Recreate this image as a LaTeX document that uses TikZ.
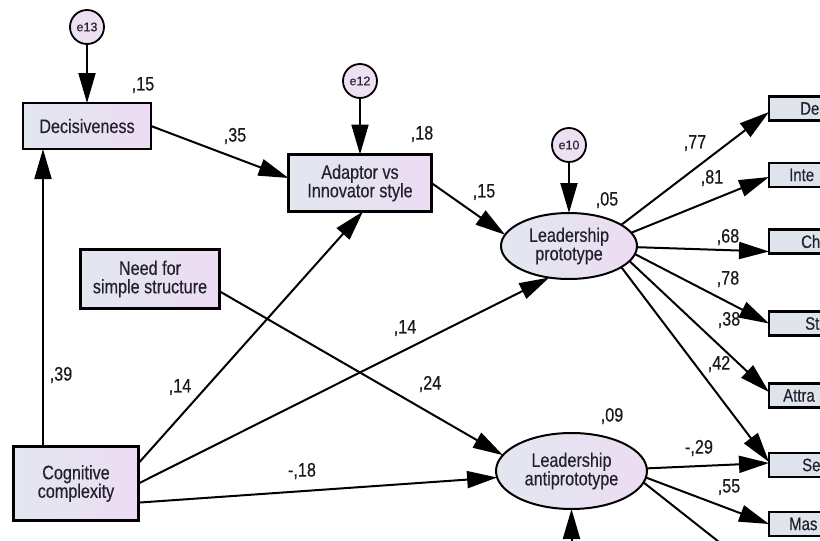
\documentclass[tikz,border=0pt]{standalone}
\usepackage{fontspec}
\newfontfamily\narrowf{Liberation Sans}[FakeStretch=0.83, FakeBold=0.4]
\newfontfamily\errf{Liberation Sans}[FakeBold=0.3]
\usetikzlibrary{arrows.meta,shapes.geometric,calc}
\newcommand\bxfont{\narrowf\fontsize{19.5pt}{18.5pt}\selectfont}
\newcommand\obxfont{\narrowf\fontsize{18pt}{18pt}\selectfont}
\newcommand\lblfont{\narrowf\fontsize{19.5pt}{20pt}\selectfont}
\newcommand\errfont{\errf\fontsize{12.5pt}{14pt}\selectfont}
\definecolor{cL}{RGB}{226,231,240}
\definecolor{cR}{RGB}{237,220,242}
\definecolor{cC}{RGB}{236,224,242}
\definecolor{cO}{RGB}{223,228,236}
\definecolor{txt}{RGB}{34,34,46}
\tikzset{
  bx/.style={draw=black, line width=2.6pt, left color=cL, right color=cR, align=center,
    inner sep=0pt, outer sep=0pt, font=\bxfont, text=txt},
  ell/.style={ellipse, draw=black, line width=2pt, left color=cL, right color=cR, align=center,
    inner sep=0pt, outer sep=0pt, font=\bxfont, text=txt},
  errc/.style={circle, draw=black, line width=1.8pt, fill=cC, minimum size=34pt,
    inner sep=0pt, outer sep=0pt, font=\errfont, text=txt},
  obox/.style={draw=black, line width=2.2pt, fill=cO, anchor=west, minimum width=90pt,
    minimum height=24pt, inner sep=0pt, outer sep=0pt},
  otext/.style={anchor=west, inner sep=0pt, font=\obxfont, text=txt},
  lbl/.style={inner sep=0pt, font=\lblfont, text=black!90},
  arr/.style={line width=2pt, draw=black, -{Triangle[length=30pt,width=17pt]}},
}
\begin{document}
\begin{tikzpicture}[x=1pt,y=-1pt]
\useasboundingbox (0,0) rectangle (820,541);
\clip (0,0) rectangle (820,541);
\fill[white] (0,0) rectangle (820,541);

% main nodes
\node[bx, minimum width=128pt, minimum height=46pt] (dec) at (87,126) {Decisiveness};
\node[bx, minimum width=143pt, minimum height=57pt] (ad) at (360,183) {Adaptor vs\\Innovator style};
\node[bx, minimum width=139pt, minimum height=59pt] (need) at (150,279) {Need for\\simple structure};
\node[bx, minimum width=125pt, minimum height=74pt] (cog) at (76,483.5) {Cognitive\\complexity};
\node[ell, minimum width=136pt, minimum height=66pt] (lp) at (569,246) {Leadership\\prototype};
\node[ell, minimum width=151pt, minimum height=76pt] (lap) at (571.5,471) {Leadership\\antiprototype};

% error terms
\node[errc] (e13) at (87,27) {e13};
\node[errc] (e12) at (360,81) {e12};
\node[errc] (e10) at (569,145) {e10};
\coordinate (e11) at (571.5,600);
\coordinate (offb) at (790,598);

% observed indicators (cut by the right edge)
\node[obox] (o1) at (769,108.5) {};
\node[obox] (o2) at (769,175) {};
\node[obox] (o3) at (769,241.5) {};
\node[obox] (o4) at (769,323.5) {};
\node[obox] (o5) at (769,395.5) {};
\node[obox] (o6) at (769,465) {};
\node[obox] (o7) at (769,524) {};
\node[otext] (t1) at (800,108.5) {De};
\node[otext] (t2) at (789,175) {Inte};
\node[otext] (t3) at (801,241.5) {Ch};
\node[otext] (t4) at (805,323.5) {St};
\node[otext] (t5) at (783,395.5) {Attra};
\node[otext] (t6) at (802,465) {Se};
\node[otext] (t7) at (789,524) {Mas};

% connectors
\draw[arr] (e13) -- (dec);
\draw[arr] (e12) -- (ad);
\draw[arr] (e10) -- (lp);
\draw[arr] (dec.east) -- (ad.176);
\draw[arr] (ad.east) -- (lp.170);
\draw[arr] ([xshift=-33pt]cog.north) -- ([xshift=-33pt]cog.north |- dec.south);
\draw[arr] (cog.18) -- ([xshift=3pt]ad.south);
\draw[arr] (cog.east) -- (lp.238);
\draw[arr] (cog.-17) -- (lap.185);
\draw[arr] (need.-10) -- (lap.167);
\draw[arr] (lp.22) -- ([yshift=-3.5pt]o1.west);
\draw[arr] (lp.12) -- ([yshift=-2pt]o2.west);
\draw[arr] (lp.-1) -- ([yshift=-10pt]o3.west);
\draw[arr] (lp.-7) -- (o4.west);
\draw[arr] (lp.-14) -- ([yshift=3.5pt]o5.west);
\draw[arr] (lp.-22) -- ([yshift=3pt]o6.west);
\draw[arr] (lap.2) -- ([yshift=2pt]o6.west);
\draw[arr] (lap.-5) -- (o7.west);
\draw[arr] (lap.-9) -- (offb);
\draw[arr] (e11) -- (lap.south);

% coefficients
\node[lbl] (l1) at (143,85) {,15};
\node[lbl] (l2) at (235,136) {,35};
\node[lbl] (l3) at (422,134) {,18};
\node[lbl] (l4) at (484,192) {,15};
\node[lbl] (l5) at (607,200) {,05};
\node[lbl] (l6) at (695,143) {,77};
\node[lbl] (l7) at (712,178) {,81};
\node[lbl] (l8) at (728,237) {,68};
\node[lbl] (l9) at (728,279) {,78};
\node[lbl] (l10) at (729,320) {,38};
\node[lbl] (l11) at (719,364) {,42};
\node[lbl] (l12) at (61,375) {,39};
\node[lbl] (l13) at (180,387) {,14};
\node[lbl] (l14) at (405,328) {,14};
\node[lbl] (l15) at (430,384) {,24};
\node[lbl] (l16) at (612,416) {,09};
\node[lbl] (l17) at (699,448) {-,29};
\node[lbl] (l18) at (729,487) {,55};
\node[lbl] (l19) at (302,471) {-,18};
\end{tikzpicture}
\end{document}
